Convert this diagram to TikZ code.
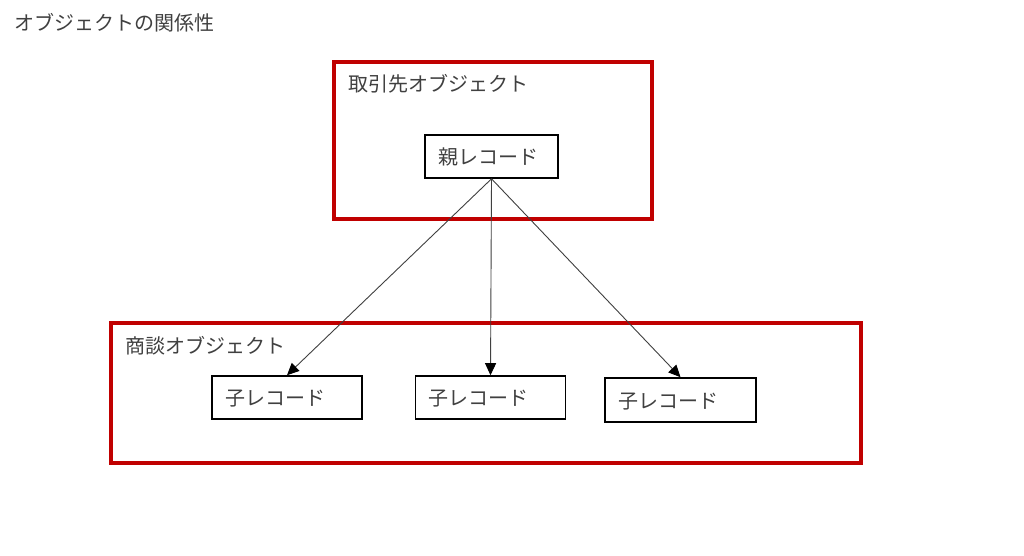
\documentclass[tikz,border=0pt]{standalone}
\usepackage{fontspec}
\setmainfont{Noto Sans CJK JP}
\usetikzlibrary{arrows.meta}
\definecolor{frred}{HTML}{C00000}
\definecolor{txt}{HTML}{404040}
\tikzset{
  frame/.style={draw=frred, line width=4pt, minimum width=#1, inner sep=0pt},
  lbl/.style={anchor=west, inner sep=0pt, text=txt, font=\fontsize{20pt}{22pt}\selectfont},
  rec/.style={draw=black, line width=1.6pt, minimum height=43pt, inner xsep=13pt, inner ysep=0pt,
              text width=#1, align=left, text=txt, text height=19pt, text depth=3pt, font=\fontsize{20pt}{22pt}\selectfont},
  link/.style={draw=txt, line width=0.9pt, -{Triangle[length=12pt,width=11pt,color=black]}}
}
\begin{document}
\begin{tikzpicture}[x=1pt,y=-1pt]
\useasboundingbox (0,0) rectangle (1024,556);
\fill[white] (0,0) rectangle (1024,556);
\node[lbl] (title) at (14,23) {オブジェクトの関係性};
\node[frame=318pt, minimum height=157pt] (acc) at (493,140.5) {};
\node[lbl] (acclbl) at (348,84) {取引先オブジェクト};
\node[frame=750pt, minimum height=140pt] (opp) at (486,393) {};
\node[lbl] (opplbl) at (125,346) {商談オブジェクト};
\node[rec=107pt] (parent) at (491.5,156.5) {親レコード};
\node[rec=124pt] (c1) at (287,397.5) {子レコード};
\node[rec=124pt] (c2) at (490.5,397.5) {子レコード};
\node[rec=125pt, minimum height=44pt] (c3) at (680.5,400) {子レコード};
\draw[link] (parent.south) -- (c1.north);
\draw[link] (parent.south) -- (c2.north);
\draw[link] (parent.south) -- (c3.north);
\end{tikzpicture}
\end{document}
